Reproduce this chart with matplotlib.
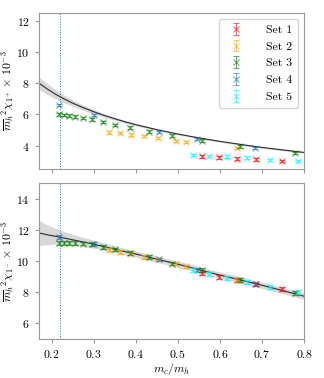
import numpy as np
import matplotlib
matplotlib.use('Agg')
import matplotlib.pyplot as plt

plt.rcParams['font.family'] = 'serif'
plt.rcParams['font.serif'] = ['cmr10', 'DejaVu Serif']
plt.rcParams['mathtext.fontset'] = 'cm'
plt.rcParams['axes.formatter.use_mathtext'] = True

# data
set_names = ['Set 1', 'Set 2', 'Set 3', 'Set 4', 'Set 5']
set_colors = ['red', 'orange', 'green', 'tab:blue', 'cyan']

x_set1 = [0.557, 0.597, 0.640, 0.687, 0.747]
x_set2 = [0.337, 0.362, 0.388, 0.419, 0.454, 0.495, 0.519, 0.640]
x_set3 = [0.217, 0.229, 0.242, 0.257, 0.276, 0.297, 0.323, 0.352, 0.387,
          0.432, 0.487, 0.557, 0.649, 0.780]
x_set4 = [0.217, 0.302, 0.455, 0.547, 0.684]
x_set5 = [0.537, 0.575, 0.616, 0.664, 0.719, 0.786]

# chi_1+ (top)
plus_set1 = [3.30, 3.24, 3.17, 3.11, 3.01]
plus_set2 = [4.85, 4.79, 4.70, 4.62, 4.47, 4.28, 4.24, 3.85]
plus_set3 = [6.00, 5.95, 5.91, 5.85, 5.78, 5.68, 5.51, 5.32, 5.15, 4.89,
             4.64, 4.32, 3.94, 3.52]
plus_set4 = [6.59, 5.97, 4.87, 4.41, 3.85]
plus_set5 = [3.41, 3.34, 3.30, 3.22, 3.09, 3.01]

# chi_1- (bottom)
minus_set1 = [9.20, 8.99, 8.76, 8.50, 8.20]
minus_set2 = [10.69, 10.57, 10.48, 10.27, 10.10, 9.84, 9.65, 8.78]
minus_set3 = [11.16, 11.16, 11.16, 11.16, 11.12, 11.06, 10.89, 10.74, 10.52,
              10.25, 9.84, 9.41, 8.77, 7.96]
minus_set4 = [11.55, 11.12, 10.10, 9.41, 8.52]
minus_set5 = [9.42, 9.15, 8.90, 8.65, 8.34, 8.00]

err_plus = 0.08
err_minus = 0.12

# fit curves and bands
fit_x = [0.17, 0.19, 0.21, 0.23, 0.25, 0.275, 0.30, 0.325, 0.35, 0.375, 0.40,
         0.45, 0.50, 0.55, 0.60, 0.65, 0.70, 0.75, 0.80]
fit_plus = [8.00, 7.62, 7.28, 6.99, 6.72, 6.43, 6.17, 5.93, 5.72, 5.52, 5.34,
            5.02, 4.74, 4.49, 4.27, 4.07, 3.88, 3.72, 3.56]
band_plus = [0.40, 0.35, 0.30, 0.25, 0.21, 0.17, 0.14, 0.12, 0.10, 0.09, 0.08,
             0.07, 0.06, 0.06, 0.06, 0.06, 0.06, 0.06, 0.06]
fit_minus = [11.80, 11.68, 11.58, 11.47, 11.36, 11.22, 11.08, 10.92, 10.76,
             10.60, 10.45, 10.12, 9.80, 9.45, 9.10, 8.78, 8.45, 8.10, 7.75]
band_minus = [0.80, 0.64, 0.50, 0.41, 0.35, 0.30, 0.26, 0.24, 0.22, 0.21, 0.20,
              0.20, 0.20, 0.20, 0.20, 0.20, 0.20, 0.20, 0.21]

x_sets = [x_set1, x_set2, x_set3, x_set4, x_set5]
plus_sets = [plus_set1, plus_set2, plus_set3, plus_set4, plus_set5]
minus_sets = [minus_set1, minus_set2, minus_set3, minus_set4, minus_set5]

fig = plt.figure(figsize=(3.24, 3.78), dpi=100)
ax1 = fig.add_axes([0.120, 0.553, 0.818, 0.413])
ax2 = fig.add_axes([0.120, 0.103, 0.818, 0.413], sharex=ax1)

fx = np.array(fit_x)
for ax, sets, err, fit, band in [(ax1, plus_sets, err_plus, fit_plus, band_plus),
                                 (ax2, minus_sets, err_minus, fit_minus, band_minus)]:
    fy = np.array(fit)
    fb = np.array(band)
    ax.fill_between(fx, fy - fb, fy + fb, color='gray', alpha=0.3, lw=0)
    ax.plot(fx, fy, color='black', lw=0.8, alpha=0.8)
    for xs, ys, name, c in zip(x_sets, sets, set_names, set_colors):
        ax.errorbar(xs, ys, yerr=err, fmt='x', color=c, alpha=0.6, ms=4.5,
                    mew=0.8, elinewidth=0.8, capsize=2.5, label=name)
    ax.axvline(0.22, color='tab:blue', ls=':', lw=0.7)
    for s in ax.spines.values():
        s.set_color('#999999')
    ax.tick_params(labelsize=8.5, color='#999999', length=3)
    ax.yaxis.set_label_coords(-0.085, 0.5)

ax1.set_xlim(0.17, 0.8)
ax1.set_ylim(2.5, 12.5)
ax1.set_yticks([4, 6, 8, 10, 12])
ax1.tick_params(labelbottom=False)
ax2.set_ylim(5, 15)
ax2.set_yticks([6, 8, 10, 12, 14])
ax2.set_xticks([0.2, 0.3, 0.4, 0.5, 0.6, 0.7, 0.8])

ax1.set_ylabel(r'$\overline{m}_h{}^2\chi_{1^+}\times\,10^{-3}$', fontsize=8.5)
ax2.set_ylabel(r'$\overline{m}_h{}^2\chi_{1^-}\times\,10^{-3}$', fontsize=8.5)
ax2.set_xlabel(r'$m_c/m_h$', fontsize=8.5, labelpad=1)

ax1.legend(loc='upper right', fontsize=8.5, handletextpad=1.5, borderpad=0.5,
           labelspacing=0.55)

fig.savefig('out.png', dpi=100)
